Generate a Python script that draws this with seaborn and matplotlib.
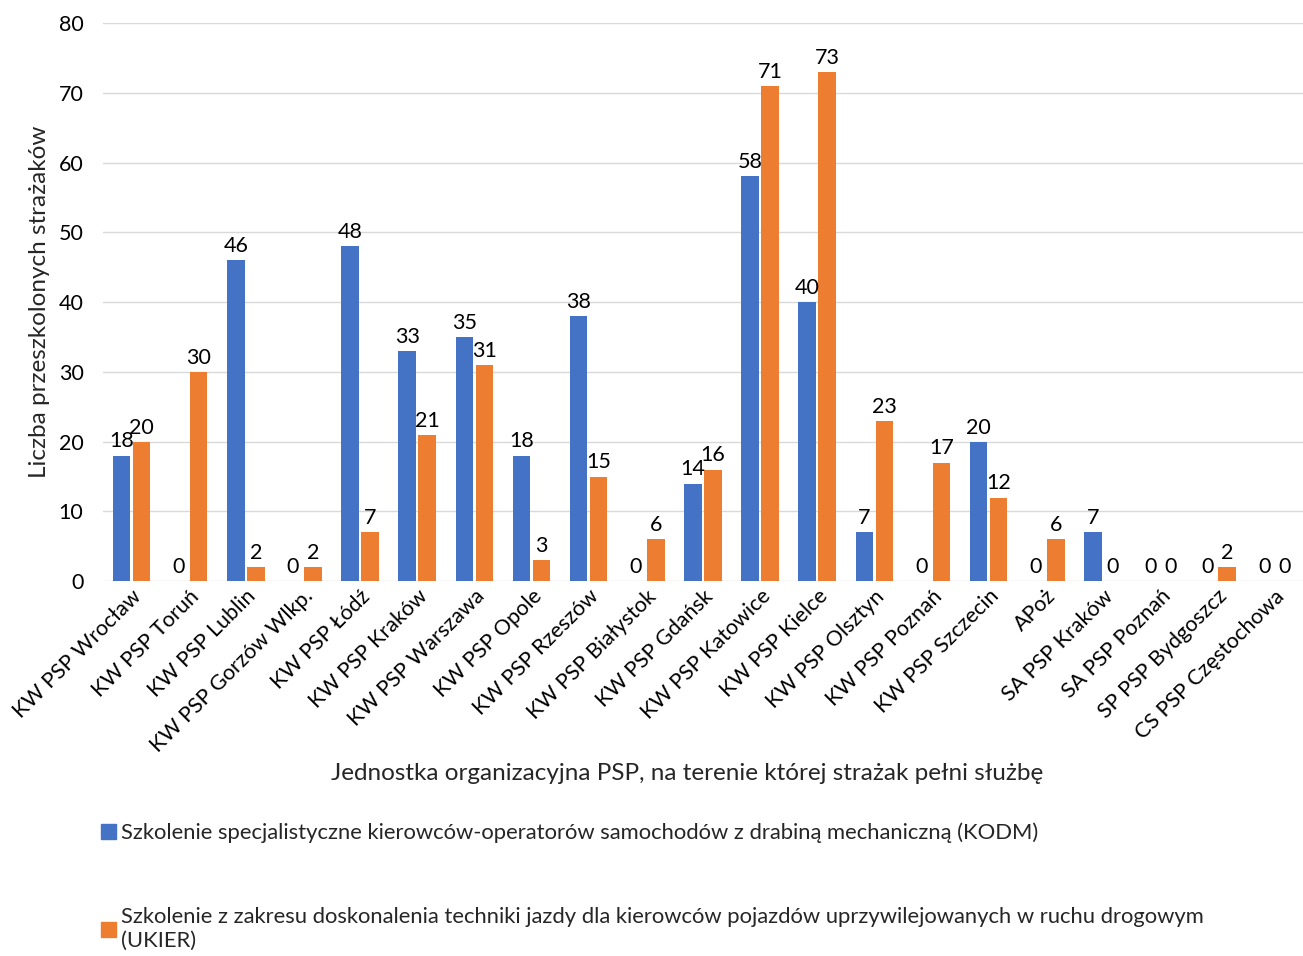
import pandas as pd
import matplotlib
matplotlib.use("Agg")
import matplotlib.pyplot as plt
from matplotlib.patches import Patch
import seaborn as sns

jednostki = ["KW PSP Wrocław", "KW PSP Toruń", "KW PSP Lublin", "KW PSP Gorzów Wlkp.",
             "KW PSP Łódź", "KW PSP Kraków", "KW PSP Warszawa", "KW PSP Opole",
             "KW PSP Rzeszów", "KW PSP Białystok", "KW PSP Gdańsk", "KW PSP Katowice",
             "KW PSP Kielce", "KW PSP Olsztyn", "KW PSP Poznań", "KW PSP Szczecin",
             "APoż", "SA PSP Kraków", "SA PSP Poznań", "SP PSP Bydgoszcz",
             "CS PSP Częstochowa"]
kodm = [18, 0, 46, 0, 48, 33, 35, 18, 38, 0, 14, 58, 40, 7, 0, 20, 0, 7, 0, 0, 0]
ukier = [20, 30, 2, 2, 7, 21, 31, 3, 15, 6, 16, 71, 73, 23, 17, 12, 6, 0, 0, 2, 0]

seria_1 = "Szkolenie specjalistyczne kierowców-operatorów samochodów z drabiną mechaniczną (KODM)"
seria_2 = ("Szkolenie z zakresu doskonalenia techniki jazdy dla kierowców pojazdów "
           "uprzywilejowanych w ruchu drogowym\n(UKIER)")

kolory = ["#4472C4", "#ED7D31"]

df = pd.DataFrame({
    "jednostka": jednostki * 2,
    "liczba": kodm + ukier,
    "seria": ["KODM"] * len(jednostki) + ["UKIER"] * len(jednostki),
})

sns.set_style("white")
plt.rcParams["font.family"] = ["Lato", "DejaVu Sans"]

fig = plt.figure(figsize=(13.03, 9.56), dpi=100)
ax = fig.add_axes([0.079, 0.392, 0.921, 0.584])

sns.barplot(data=df, x="jednostka", y="liczba", hue="seria", palette=kolory,
            saturation=1, width=0.7, gap=0.12, linewidth=0, legend=False,
            ax=ax, zorder=3)

for c in ax.containers:
    ax.bar_label(c, fontsize=15.5, padding=3, color="#000000")

ax.set_ylim(0, 80)
ax.set_yticks(range(0, 81, 10))
ax.set_xlim(-0.5, len(jednostki) - 0.5)
ax.grid(axis="y", color="#D9D9D9", linewidth=1, zorder=0)
ax.set_axisbelow(True)
for s in ax.spines.values():
    s.set_visible(False)
ax.tick_params(axis="both", length=0, labelsize=15.5, colors="#000000")
ax.tick_params(axis="y", pad=14)
ax.set_xticks(range(len(jednostki)))
ax.set_xticklabels(jednostki, rotation=45, ha="right", rotation_mode="anchor")
ax.set_xlabel("Jednostka organizacyjna PSP, na terenie której strażak pełni służbę",
              fontsize=17.5, labelpad=10)
ax.xaxis.set_label_coords(0.487, -0.326)
ax.set_ylabel("Liczba przeszkolonych strażaków", fontsize=17.5, labelpad=6)

fig.legend(handles=[Patch(color=kolory[0])], labels=[seria_1],
           loc="center left", bbox_to_anchor=(0.062, 1 - 833 / 956),
           frameon=False, fontsize=15.8, handlelength=0.7, handleheight=0.7,
           handletextpad=0.25)
fig.legend(handles=[Patch(color=kolory[1])], labels=[seria_2],
           loc="center left", bbox_to_anchor=(0.062, 1 - 929 / 956),
           frameon=False, fontsize=15.8, handlelength=0.7, handleheight=0.7,
           handletextpad=0.25)

fig.savefig("out.png", dpi=100)
